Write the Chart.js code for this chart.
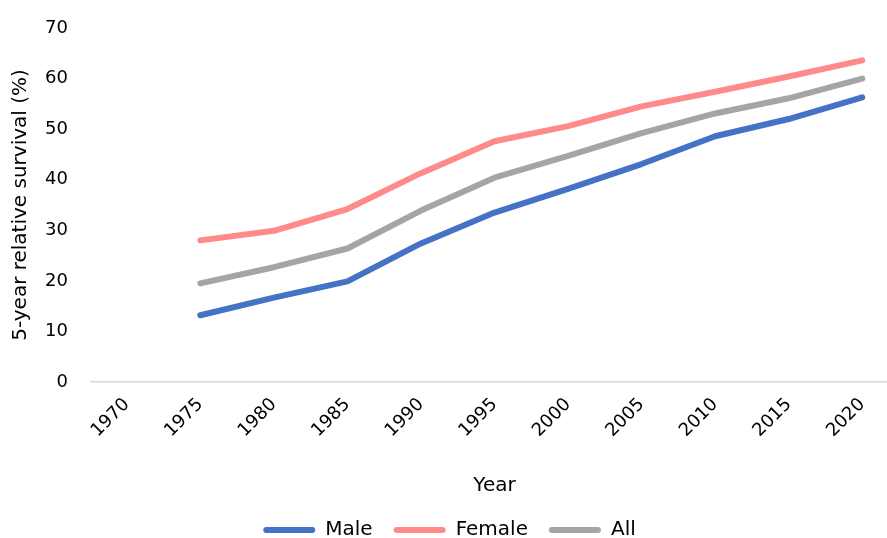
<!DOCTYPE html>
<html>
<head>
<meta charset="utf-8">
<script src="https://cdn.jsdelivr.net/npm/chart.js@4/dist/chart.umd.min.js"></script>
<style>
  html, body { margin: 0; padding: 0; background: #fff; overflow: hidden; }
  #wrap { width: 900px; height: 550px; position: relative; }
</style>
</head>
<body>
<div id="wrap"><canvas id="chart"></canvas></div>
<script>
// Data
const years = ['1970', '1975', '1980', '1985', '1990', '1995', '2000', '2005', '2010', '2015', '2020'];
const male = [null, 13.2, 16.7, 19.9, 27.4, 33.5, 38.2, 43.1, 48.6, 52.0, 56.3];
const female = [null, 28.0, 29.9, 34.2, 41.3, 47.6, 50.6, 54.5, 57.4, 60.4, 63.6];
const all = [null, 19.5, 22.7, 26.4, 33.9, 40.4, 44.7, 49.2, 53.1, 56.1, 60.0];
const yTicks = [0, 10, 20, 30, 40, 50, 60, 70];

const FONT = '"DejaVu Sans", sans-serif';

function series(label, data, color) {
    return {
        label: label,
        data: data,
        borderColor: color,
        backgroundColor: color,
        borderWidth: 6,
        pointRadius: 0,
        borderCapStyle: 'round',
        borderJoinStyle: 'round',
        tension: 0,
        spanGaps: false
    };
}

const ctx = document.getElementById('chart').getContext('2d');
new Chart(ctx, {
    type: 'line',
    data: {
        labels: years,
        datasets: [
            series('Male', male, '#4472C4'),
            series('Female', female, '#FF8A8A'),
            series('All', all, '#A5A5A5')
        ]
    },
    options: {
        responsive: true,
        maintainAspectRatio: false,
        animation: false,
        layout: { padding: { top: 28, right: 1, bottom: 0, left: 0 } },
        scales: {
            x: {
                offset: true,
                afterFit: (s) => { s.height = 117; },
                grid: { display: false, drawTicks: false },
                border: { display: false },
                ticks: {
                    minRotation: 45,
                    maxRotation: 45,
                    padding: 12,
                    color: '#000',
                    font: { family: FONT, size: 18 }
                },
                title: {
                    display: true,
                    text: 'Year',
                    color: '#000',
                    font: { family: FONT, size: 20 },
                    padding: { top: 0, bottom: 1 }
                }
            },
            y: {
                min: 0,
                max: 70,
                afterBuildTicks: (s) => { s.ticks = yTicks.map(v => ({ value: v })); },
                afterFit: (s) => { s.width = 90; s.paddingTop = 12; },
                grid: {
                    drawTicks: false,
                    color: (c) => c.tick && c.tick.value === 0 ? '#D9D9D9' : 'rgba(0,0,0,0)',
                    lineWidth: 1.5
                },
                border: { display: false },
                ticks: {
                    padding: 22,
                    color: '#000',
                    font: { family: FONT, size: 18 }
                },
                title: {
                    display: true,
                    text: '5-year relative survival (%)',
                    color: '#000',
                    font: { family: FONT, size: 20 },
                    padding: { top: 9, bottom: 0 }
                }
            }
        },
        plugins: {
            tooltip: { enabled: false },
            legend: {
                position: 'bottom',
                labels: {
                    boxWidth: 52,
                    boxHeight: 6,
                    padding: 21,
                    color: '#000',
                    font: { family: FONT, size: 20 },
                    generateLabels: (chart) =>
                        Chart.defaults.plugins.legend.labels.generateLabels(chart)
                            .map(l => Object.assign(l, { lineWidth: 0, borderRadius: 3 }))
                }
            }
        }
    }
});
</script>
</body>
</html>
